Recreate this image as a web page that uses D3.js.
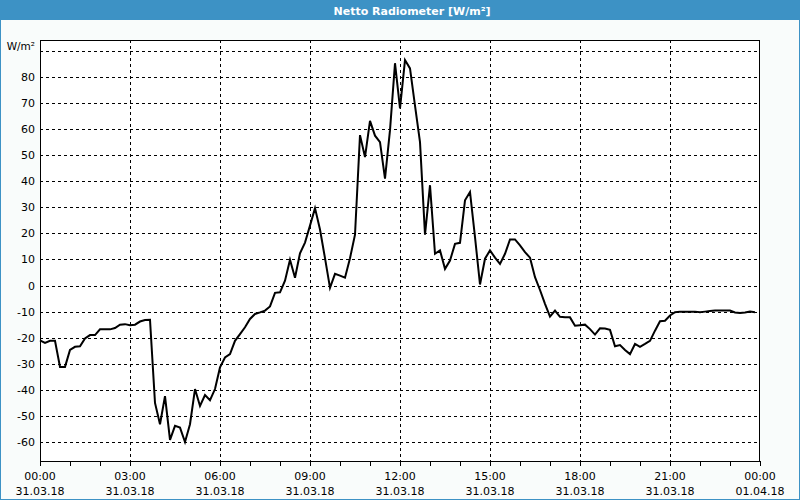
<!DOCTYPE html>
<html><head><meta charset="utf-8">
<script src="https://cdn.jsdelivr.net/npm/d3@7"></script>
<style>html,body{margin:0;padding:0;background:#f9fcfb;}svg{display:block;}</style>
</head><body>
<svg id="chart" width="800" height="500"></svg>
<script>
const title = "Netto Radiometer [W/m²]";
const unitLabel = "W/m²";
const startTime = "2018-03-31T00:00";
const stepMinutes = 10;
const values = [
  -21, -22, -21.2, -21.2, -31.2, -31.2, -24.7, -23.5, -23.3, -20.3,
  -19, -19, -16.8, -16.8, -16.8, -16.3, -15, -14.8, -15.2, -15,
  -13.8, -13.2, -13.1, -45, -53.2, -42.4, -59.2, -53.8, -54.5, -60,
  -53.2, -39.7, -46.2, -42, -44, -39.7, -31.4, -27.6, -26.3, -21.2,
  -18.6, -16, -12.8, -10.9, -10.3, -9.6, -8, -2.8, -2.6, 1.9,
  9.9, 3, 12.4, 16.5, 23, 29.7, 21.5, 10.5, -0.9, 4.5,
  3.8, 3, 10.5, 19.5, 57.7, 49.3, 63.2, 57.5, 55, 41,
  59.6, 85.3, 68, 86.5, 83.3, 69, 55, 19.5, 38.5, 12.2,
  13.5, 6.4, 9.6, 16, 16.4, 32.7, 35.9, 18.6, 0.4, 10.3,
  13.5, 10.7, 8.3, 12.2, 17.7, 17.7, 15.4, 12.8, 10.7, 3.2,
  -1.7, -7, -11.9, -9.6, -12, -12.2, -12.2, -15.4, -15.2, -15,
  -16.7, -18.8, -16.4, -16.5, -17, -23.3, -22.8, -24.7, -26.3, -22.4,
  -23.5, -22.4, -21.2, -17.3, -13.7, -13.5, -11.5, -10.2, -10, -10,
  -10, -10, -10.2, -10, -9.8, -9.6, -9.6, -9.6, -9.6, -10.3,
  -10.5, -10.3, -10, -10.2
];
const yTicks = [-60, -50, -40, -30, -20, -10, 0, 10, 20, 30, 40, 50, 60, 70, 80];
const yUnitTick = 90;
const xTickLabels = [
  ["00:00","31.03.18"],["03:00","31.03.18"],["06:00","31.03.18"],["09:00","31.03.18"],
  ["12:00","31.03.18"],["15:00","31.03.18"],["18:00","31.03.18"],["21:00","31.03.18"],["00:00","01.04.18"]
];

const svg = d3.select("#chart");
const W = 800, H = 500;
const m = {left: 40, right: 760, top: 40, bottom: 461};
const font = "Tahoma, 'DejaVu Sans', Verdana, sans-serif";

const t0 = new Date(startTime);
const data = values.map((v, i) => ({t: new Date(t0.getTime() + i * stepMinutes * 60000), v}));
const t1 = new Date(t0.getTime() + 24 * 3600000);

const x = d3.scaleTime().domain([t0, t1]).range([m.left, m.right]);
const y = d3.scaleLinear().domain([-67.3, 94.2]).range([m.bottom, m.top]);

// background
svg.append("rect").attr("x", 0).attr("y", 0).attr("width", W).attr("height", H).attr("fill", "#f9fcfb");
// title bar
svg.append("rect").attr("x", 0).attr("y", 0).attr("width", W).attr("height", 20).attr("fill", "#3d92c5");
svg.append("text").attr("x", 412).attr("y", 14.5).attr("text-anchor", "middle")
  .attr("fill", "#ffffff").attr("font-family", font).attr("font-weight", "bold").attr("font-size", 11)
  .text(title);
// outer frame
svg.append("rect").attr("x", 0.5).attr("y", 0.5).attr("width", W - 1).attr("height", H - 1)
  .attr("fill", "none").attr("stroke", "#3d92c5");

// plot area
svg.append("rect").attr("x", m.left).attr("y", m.top).attr("width", m.right - m.left).attr("height", m.bottom - m.top)
  .attr("fill", "#ffffff");

// horizontal grid
const gy = svg.append("g");
gy.selectAll("line").data(yTicks.concat([yUnitTick])).join("line")
  .attr("x1", m.left).attr("x2", m.right)
  .attr("y1", d => Math.round(y(d)) + 0.5).attr("y2", d => Math.round(y(d)) + 0.5)
  .attr("stroke", "#000").attr("stroke-dasharray", "3,3").attr("stroke-width", 1);

// vertical grid
const majorTicks = d3.range(0, 25, 3).map(h => new Date(t0.getTime() + h * 3600000));
const minorTicks = d3.range(0, 25, 1).map(h => new Date(t0.getTime() + h * 3600000));
svg.append("g").selectAll("line").data(majorTicks.slice(1, -1)).join("line")
  .attr("x1", d => Math.round(x(d)) + 0.5).attr("x2", d => Math.round(x(d)) + 0.5)
  .attr("y1", m.top).attr("y2", m.bottom)
  .attr("stroke", "#000").attr("stroke-dasharray", "3,3").attr("stroke-width", 1);

// x axis ticks
svg.append("g").selectAll("line").data(minorTicks).join("line")
  .attr("x1", d => Math.round(x(d)) + 0.5).attr("x2", d => Math.round(x(d)) + 0.5)
  .attr("y1", m.bottom).attr("y2", m.bottom + 5)
  .attr("stroke", "#000").attr("stroke-width", 1);

// x labels
const xl = svg.append("g").attr("font-family", font).attr("font-size", 11).attr("fill", "#000");
xl.selectAll("text.t").data(majorTicks).join("text").attr("class", "t")
  .attr("x", (d) => x(d)).attr("y", 480).attr("text-anchor", "middle")
  .text((d, i) => xTickLabels[i][0]);
xl.selectAll("text.d").data(majorTicks).join("text").attr("class", "d")
  .attr("x", (d) => x(d)).attr("y", 495).attr("text-anchor", "middle")
  .text((d, i) => xTickLabels[i][1]);

// y labels
const yl = svg.append("g").attr("font-family", font).attr("font-size", 11).attr("fill", "#000");
yl.selectAll("text").data(yTicks).join("text")
  .attr("x", 35).attr("y", d => y(d) + 4).attr("text-anchor", "end").text(d => d);
yl.append("text").attr("x", 35).attr("y", y(yUnitTick) - 1).attr("text-anchor", "end").attr("font-size", 10.5).text(unitLabel);

// border
svg.append("rect").attr("x", m.left + 0.5).attr("y", m.top + 0.5)
  .attr("width", m.right - m.left - 1).attr("height", m.bottom - m.top)
  .attr("fill", "none").attr("stroke", "#000").attr("stroke-width", 1);

// line
const line = d3.line().x(d => x(d.t)).y(d => y(d.v));
svg.append("path").datum(data).attr("d", line)
  .attr("fill", "none").attr("stroke", "#000").attr("stroke-width", 2).attr("stroke-linejoin", "miter");
</script>
</body></html>
